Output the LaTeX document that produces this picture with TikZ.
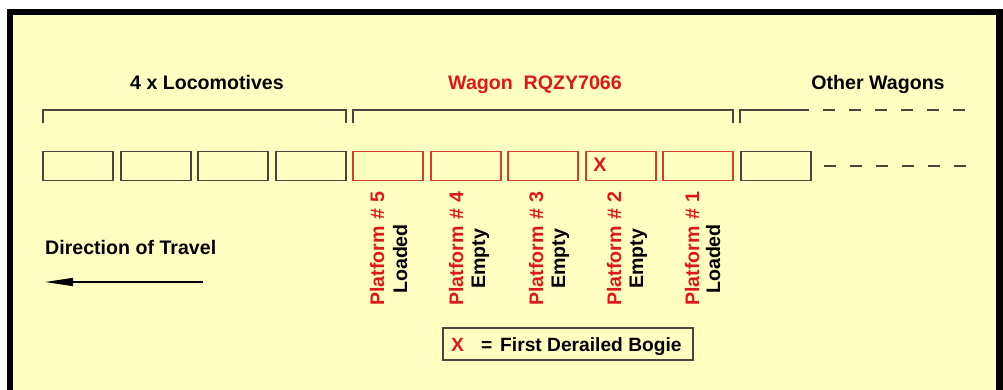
\documentclass[tikz,border=0pt]{standalone}
\usepackage{fontspec}
\setmainfont{Liberation Sans}
\usetikzlibrary{arrows.meta}
\definecolor{bg}{RGB}{255,255,194}
\definecolor{tred}{RGB}{222,24,24}
\definecolor{bred}{RGB}{214,62,44}
\definecolor{gline}{RGB}{72,72,58}
\begin{document}
\begin{tikzpicture}[x=1pt,y=-1pt,
  txt/.style={font=\fontsize{19.6}{19.6}\selectfont\bfseries, inner sep=0pt},
  car/.style={draw=gline, line width=1.6pt, minimum width=70pt, minimum height=29pt, inner sep=0pt, outer sep=0pt},
  redcar/.style={car, draw=bred},
  brk/.style={draw=gline, line width=1.4pt},
  dsh/.style={draw=gline, line width=1.4pt, dash pattern=on 12pt off 14pt},
  plat/.style={txt, text=tred, rotate=90, anchor=base west},
  stat/.style={txt, text=black, rotate=90, anchor=base}]
\useasboundingbox (0,0) rectangle (1003,390);
\fill[white] (0,0) rectangle (1003,390);
\fill[black] (7,9) rectangle (1003,390);
\fill[bg] (13,15) rectangle (996,390);

% headers
\node[txt, anchor=base] (hloco) at (207,90) {4 x Locomotives};
\node[txt, anchor=base, text=tred] (hwag) at (535,90) {Wagon\ \ RQZY7066};
\node[txt, anchor=base] (hother) at (878,90) {Other Wagons};

% brackets
\draw[brk] (43,123) -- (43,110) -- (346,110) -- (346,123);
\draw[brk] (353,123) -- (353,110) -- (733,110) -- (733,123);
\draw[brk] (740,123) -- (740,110) -- (809,110);
\draw[dsh] (823,110) -- (967,110);

% cars
\node[car] (l1) at (78,166) {};
\node[car] (l2) at (156,166) {};
\node[car] (l3) at (233,166) {};
\node[car] (l4) at (311,166) {};
\node[redcar] (w5) at (388,166) {};
\node[redcar] (w4) at (466,166) {};
\node[redcar] (w3) at (543,166) {};
\node[redcar] (w2) at (621,166) {};
\node[redcar] (w1) at (698,166) {};
\node[car] (o1) at (776,166) {};
\coordinate (dend) at (967,166);
\draw[dsh] ([xshift=13pt]o1.east) -- (dend);

\node[txt, text=tred] (xmark) at (600,165) {X};

% platform labels
\node[plat] (p5) at (384,306) {Platform\hspace{7pt}\# 5};
\node[stat] (s5) at (407,259) {Loaded};
\node[plat] (p4) at (463,306) {Platform\hspace{7pt}\# 4};
\node[stat] (s4) at (485,259) {Empty};
\node[plat] (p3) at (543,306) {Platform\hspace{7pt}\# 3};
\node[stat] (s3) at (565,259) {Empty};
\node[plat] (p2) at (621,306) {Platform\hspace{7pt}\# 2};
\node[stat] (s2) at (643,259) {Empty};
\node[plat] (p1) at (699,306) {Platform\hspace{7pt}\# 1};
\node[stat] (s1) at (720,259) {Loaded};

% direction
\node[txt, anchor=base west] (dir) at (45,254) {Direction of Travel};
\coordinate (astart) at (203,282);
\coordinate (aend) at (45,282);
\draw[line width=1.5pt, -{Triangle[length=28pt,width=8pt]}] (astart) -- (aend);

% legend
\node[draw=gline, line width=1.4pt, minimum width=250pt, minimum height=32pt, inner sep=0pt] (legend) at (568,344) {};
\node[txt, anchor=base west, font=\fontsize{19.2}{19.2}\selectfont\bfseries] (legtxt) at (451,351) {\textcolor{tred}{X}\hspace{17pt}=\hspace{8pt}First Derailed Bogie};
\end{tikzpicture}
\end{document}
